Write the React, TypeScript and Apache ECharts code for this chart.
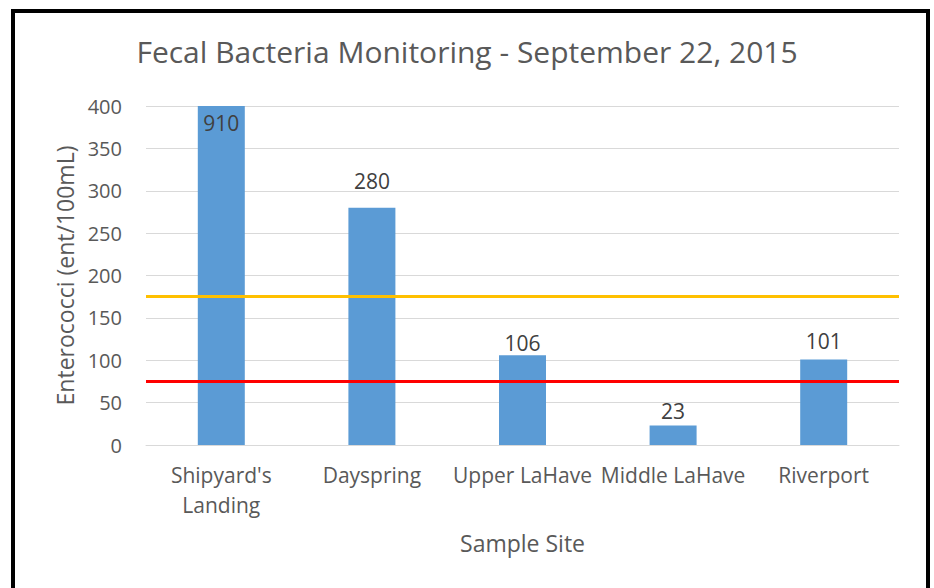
import React, { useEffect, useRef } from "react";
import * as echarts from "echarts";

const categories = ["Shipyard's\nLanding", "Dayspring", "Upper LaHave", "Middle LaHave", "Riverport"];
const enterococci = [910, 280, 106, 23, 101];
const yellowLimit = [175];
const redLimit = [75];
const yMin = 0;
const yMax = 400;
const yInterval = 50;

// styling: gap between each value label and its bar (px)
const labelGaps = [6, 16, 2, 4, 8];

const FONT = "Open Sans";
const TEXT = "#595959";

export default function App() {
  const ref = useRef<HTMLDivElement>(null);
  useEffect(() => {
    if (!ref.current) return;
    const chart = echarts.init(ref.current, undefined, { renderer: "svg" });
    const barData = enterococci.map((v, i) =>
      v > yMax
        ? { value: yMax, label: { position: "insideTop", distance: labelGaps[i] } }
        : { value: v, label: { position: "top", distance: labelGaps[i] } }
    );
    chart.setOption({
      animation: false,
      backgroundColor: "#ffffff",
      textStyle: { fontFamily: FONT, color: TEXT },
      title: {
        text: "Fecal Bacteria Monitoring - September 22, 2015",
        left: "center",
        top: 31,
        textStyle: { fontFamily: FONT, fontSize: 30, fontWeight: "normal", color: TEXT },
      },
      graphic: [
        {
          type: "rect",
          shape: { x: 13, y: 11, width: 915, height: 700 },
          style: { fill: "none", stroke: "#000000", lineWidth: 4 },
          silent: true,
          z: 100,
        },
      ],
      grid: { left: 146, right: 35, top: 106, bottom: 143 },
      xAxis: {
        type: "category",
        data: categories,
        name: "Sample Site",
        nameLocation: "middle",
        nameGap: 86,
        nameTextStyle: { fontFamily: FONT, fontSize: 23, color: TEXT },
        axisLine: { lineStyle: { color: "#d9d9d9", width: 1 } },
        axisTick: { show: false },
        axisLabel: { fontFamily: FONT, fontSize: 21, color: TEXT, margin: 15, lineHeight: 30, interval: 0 },
      },
      yAxis: {
        type: "value",
        min: yMin,
        max: yMax,
        interval: yInterval,
        name: "Enterococci (ent/100mL)",
        nameLocation: "middle",
        nameGap: 70,
        nameTextStyle: { fontFamily: FONT, fontSize: 23, color: TEXT },
        axisLine: { show: false },
        axisTick: { show: false },
        axisLabel: { fontFamily: FONT, fontSize: 20, color: TEXT, margin: 24 },
        splitLine: { lineStyle: { color: "#d9d9d9", width: 1 } },
      },
      series: [
        {
          type: "bar",
          data: barData,
          barWidth: 47,
          itemStyle: { color: "#5b9bd5" },
          label: {
            show: true,
            position: "top",
            fontFamily: FONT,
            fontSize: 21,
            color: "#404040",
            formatter: (p: any) => String(enterococci[p.dataIndex]),
          },
          markLine: {
            silent: true,
            symbol: "none",
            label: { show: false },
            data: [
              { yAxis: yellowLimit[0], lineStyle: { color: "#ffc000", width: 3, type: "solid" } },
              { yAxis: redLimit[0], lineStyle: { color: "#ff0000", width: 3, type: "solid" } },
            ],
          },
        },
      ],
    });
    return () => chart.dispose();
  }, []);
  return (
    <div
      ref={ref}
      style={{ position: "absolute", left: 0, top: 0, width: 934, height: 588 }}
    />
  );
}
